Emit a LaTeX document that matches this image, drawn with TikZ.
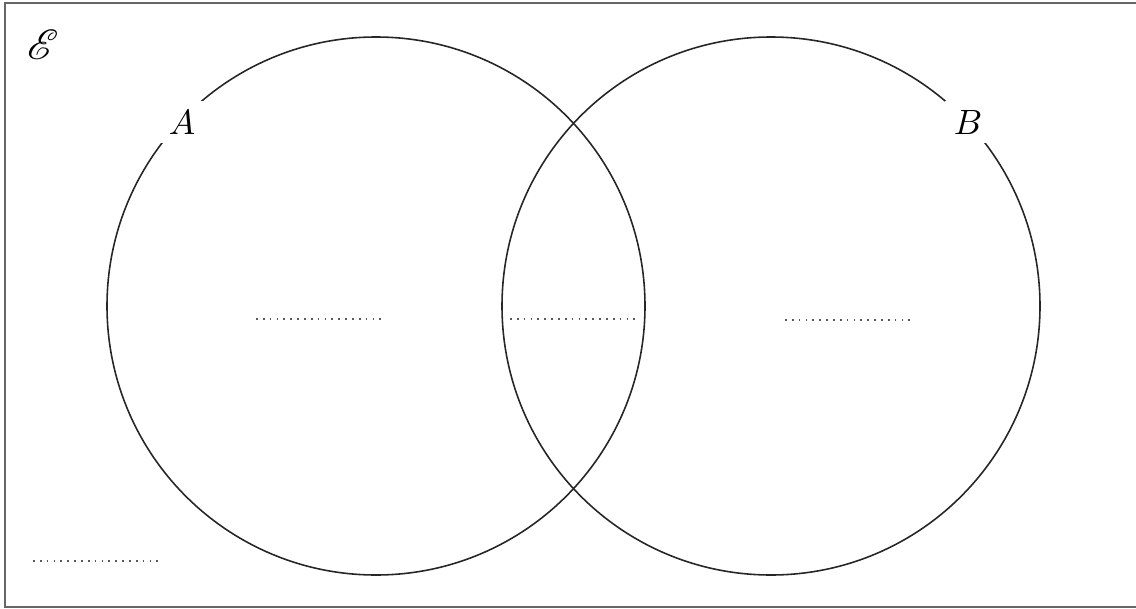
\documentclass[tikz,border=0pt]{standalone}
\usepackage{mathrsfs}
\begin{document}
\begin{tikzpicture}[x=0.01cm,y=-0.01cm,
  setline/.style={black!85,line width=0.45pt},
  setlbl/.style={fill=white,inner sep=2.5pt,font=\normalsize},
  blank/.style={black!65,line width=0.55pt,dash pattern=on 0.5pt off 1.45pt}]
\useasboundingbox (0,0) rectangle (1136,609);
\clip (0,0) rectangle (1136,609);
\draw[black!60,line width=0.8pt] (5,3) rectangle (1200,607);
\node (univ) at (43,45) {\large$\mathscr{E}$};
\draw[setline] (376,306) circle (269);
\draw[setline] (771,306) circle (269);
\node[setlbl] (labA) at (182,122) {$A$};
\node[setlbl] (labB) at (968,122) {$B$};
% answer blanks
\draw[blank] (256,319) -- (385,319);
\draw[blank] (510,319) -- (637,319);
\draw[blank] (785,320) -- (910,320);
\draw[blank] (33,561) -- (160,561);
\end{tikzpicture}
\end{document}
